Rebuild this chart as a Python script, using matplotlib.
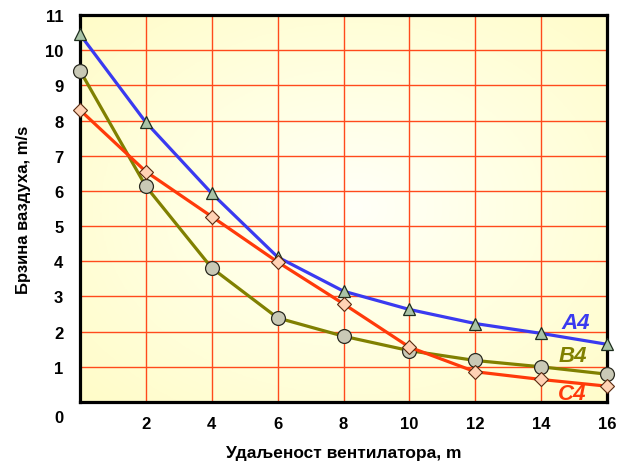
import numpy as np
import matplotlib
matplotlib.use("Agg")
import matplotlib.pyplot as plt
from matplotlib.transforms import ScaledTranslation
from matplotlib.colors import LinearSegmentedColormap

plt.rcParams['font.family'] = ['Liberation Sans', 'DejaVu Sans']

# Distance from the fan, m
distance = [0, 2, 4, 6, 8, 10, 12, 14, 16]
# Air speed, m/s
a4 = [10.45, 7.95, 5.93, 4.12, 3.15, 2.63, 2.23, 1.95, 1.64]
b4 = [9.42, 6.13, 3.81, 2.39, 1.87, 1.46, 1.18, 1.0, 0.79]
c4 = [8.3, 6.55, 5.27, 3.98, 2.79, 1.56, 0.86, 0.64, 0.45]

x_ticks = [2, 4, 6, 8, 10, 12, 14, 16]
y_ticks = list(range(0, 12))

fig = plt.figure(figsize=(6.17, 4.64), dpi=100)
ax = fig.add_axes([80 / 617, 61 / 464, 527 / 617, 387 / 464])

# radial pale-yellow background
xx, yy = np.meshgrid(np.linspace(0, 1, 400), np.linspace(0, 1, 300))
r = np.sqrt(((xx - 0.52) / 0.75) ** 2 + ((yy - 0.5) / 0.75) ** 2)
r = np.clip(r, 0, 1)
cmap = LinearSegmentedColormap.from_list('bg', ['#FFFFF8', '#FFFFE0', '#FFFCC8'])
ax.imshow(r, cmap=cmap, extent=[0, 16, 0, 11], origin='lower', aspect='auto',
          zorder=0, interpolation='bilinear')

ax.set_xlim(0, 16)
ax.set_ylim(0, 11)

for xv in x_ticks:
    ax.axvline(xv, color='#FF4A1C', lw=1.0, zorder=1)
for yv in y_ticks[1:]:
    ax.axhline(yv, color='#FF4A1C', lw=1.0, zorder=1)

ax.plot(distance, a4, color='#3A3AF0', lw=2.3, zorder=6, clip_on=False,
        marker='^', markersize=9, markerfacecolor='#A9C3A6',
        markeredgecolor='#1E2E1E', markeredgewidth=0.9)
ax.plot(distance, b4, color='#808000', lw=2.3, zorder=6, clip_on=False,
        marker='o', markersize=10, markerfacecolor='#C9C9B6',
        markeredgecolor='#2A2A20', markeredgewidth=0.9)
ax.plot(distance, c4, color='#FF3A0A', lw=2.3, zorder=7, clip_on=False,
        marker='D', markersize=7, markerfacecolor='#FFD2B4',
        markeredgecolor='#5A2A10', markeredgewidth=0.8)

lab_kw = dict(fontsize=16, fontweight='bold', fontstyle='italic', ha='center', va='center')
ax.text(15.05, 2.27, 'A4', color='#3A3AF0', **lab_kw)
ax.text(14.95, 1.31, 'B4', color='#808000', **lab_kw)
ax.text(14.95, 0.23, 'C4', color='#FF3A0A', **lab_kw)

for s in ax.spines.values():
    s.set_linewidth(2.3)
    s.set_color('black')
    s.set_zorder(5)

ax.set_xticks(x_ticks)
ax.set_xticklabels([str(v) for v in x_ticks])
ax.set_yticks(y_ticks)
ax.set_yticklabels([str(v) for v in y_ticks])
ax.tick_params(length=0, labelsize=12)
ax.tick_params(axis='x', pad=10)
ax.tick_params(axis='y', pad=12)
for lbl in ax.get_xticklabels() + ax.get_yticklabels():
    lbl.set_fontweight('bold')
zero = ax.get_yticklabels()[0]
zero.set_transform(zero.get_transform() + ScaledTranslation(0, -0.14, fig.dpi_scale_trans))

ax.set_xlabel('Удаљеност вентилатора, m', fontsize=12.5, fontweight='bold', labelpad=10)
ax.set_ylabel('Брзина ваздуха, m/s', fontsize=12, fontweight='bold', labelpad=10)

fig.savefig('out.png', dpi=100)
